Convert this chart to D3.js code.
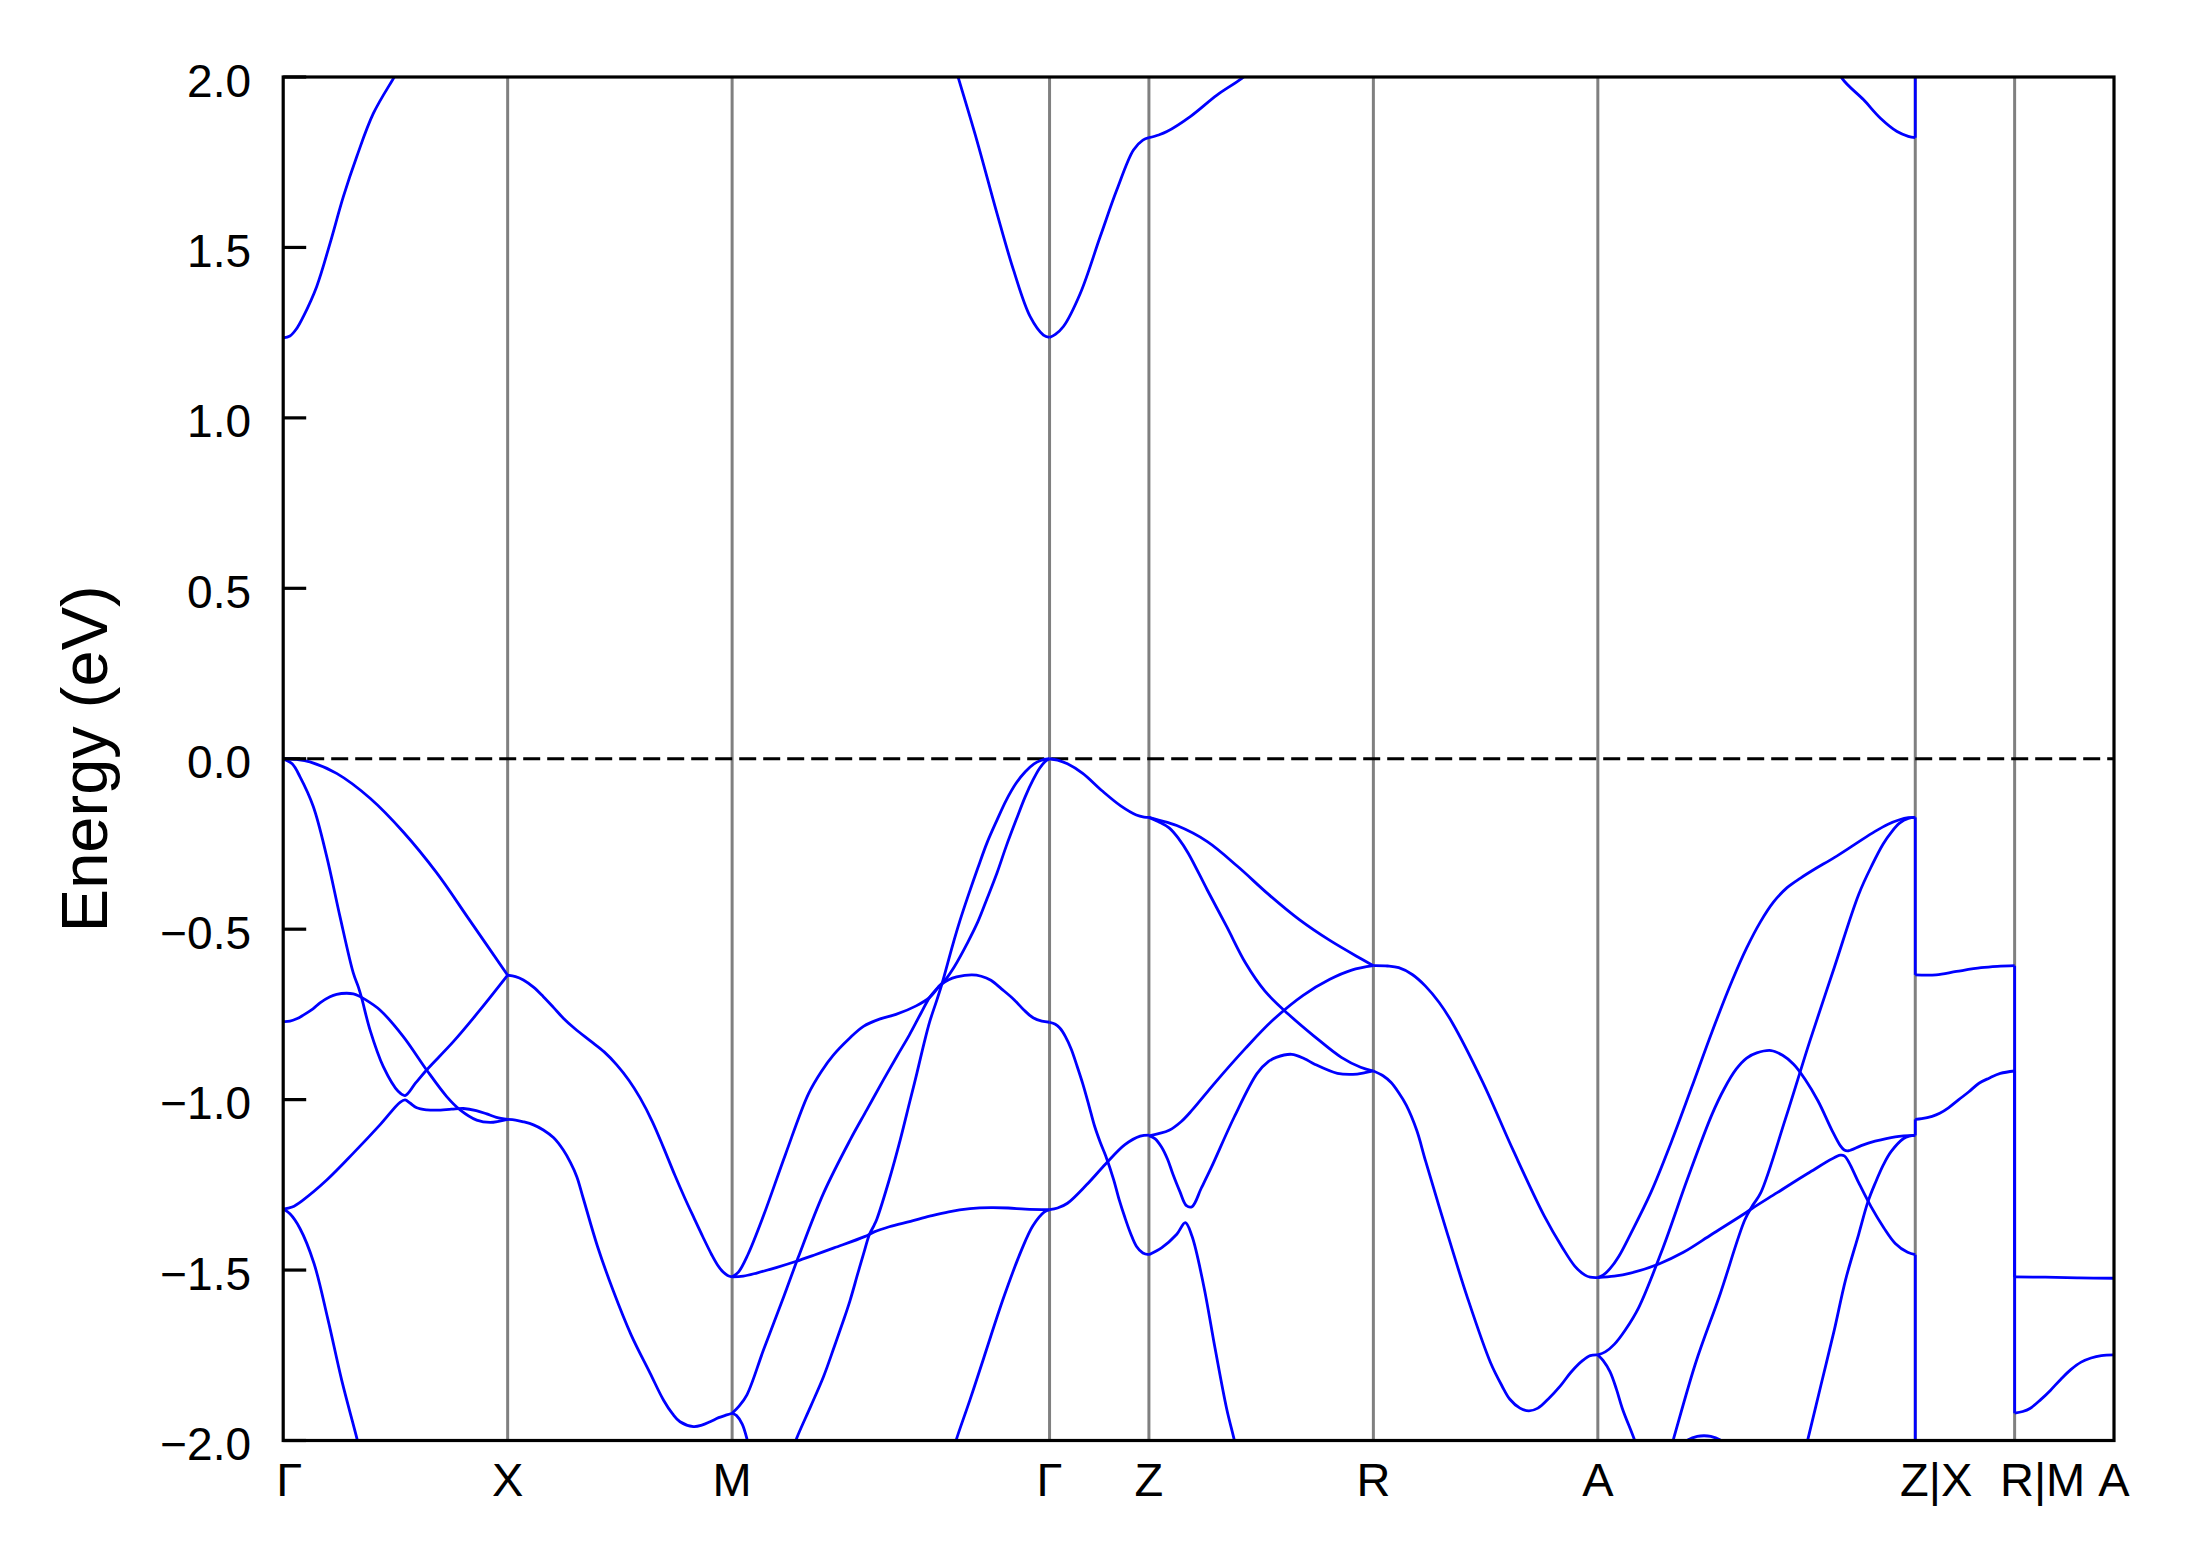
<!DOCTYPE html>
<html><head><meta charset="utf-8">
<script src="https://cdn.jsdelivr.net/npm/d3@7"></script>
<style>
html,body{margin:0;padding:0;background:#fff;}
svg{display:block;}
text{font-family:"Liberation Sans",Arial,Helvetica,sans-serif;fill:#000;}
</style>
</head><body>
<svg id="chart" width="2189" height="1567"></svg>
<script>
// ---------- data ----------
const kTicks  = [0, 1, 2, 3.4142, 3.8569, 4.8569, 5.8569, 7.2711, 7.7138, 8.1565];
const kLabels = ["Γ","X","M","Γ","Z","R","A","Z|X","R|M","A"];
const yTicks  = [-2, -1.5, -1, -0.5, 0, 0.5, 1, 1.5, 2];
const yLabel  = "Energy (eV)";

// band pieces, each a list of [k, E(eV)]
const segGX = [
  [[0,1.235],[0.03,1.240],[0.06,1.262],[0.0896,1.297],[0.149,1.385],[0.2086,1.512],[0.268,1.649],[0.3275,1.766],[0.4016,1.893],[0.495,2.0],[0.55,2.06]],
  [[0,0],[0.06,-0.002],[0.119,-0.009],[0.238,-0.043],[0.387,-0.116],[0.535,-0.215],[0.684,-0.335],[0.832,-0.475],[1,-0.635]],
  [[0,0],[0.04,-0.015],[0.075,-0.053],[0.134,-0.140],[0.194,-0.287],[0.253,-0.463],[0.3125,-0.629],[0.335,-0.670],[0.350,-0.703],[0.387,-0.796],[0.446,-0.903],[0.513,-0.976],[0.543,-0.988],[0.59,-0.951],[0.639,-0.913],[0.758,-0.830],[0.877,-0.737],[1,-0.635]],
  [[0,-0.771],[0.03,-0.770],[0.06,-0.763],[0.0896,-0.752],[0.134,-0.733],[0.164,-0.716],[0.2085,-0.698],[0.238,-0.691],[0.283,-0.688],[0.3125,-0.690],[0.335,-0.695],[0.357,-0.703],[0.431,-0.737],[0.535,-0.815],[0.639,-0.913],[0.7285,-0.991],[0.788,-1.030],[0.862,-1.060],[0.922,-1.067],[1,-1.058]],
  [[0,-1.321],[0.04,-1.315],[0.0896,-1.294],[0.194,-1.236],[0.3125,-1.157],[0.431,-1.074],[0.5205,-1.008],[0.543,-1.001],[0.565,-1.010],[0.595,-1.024],[0.64,-1.030],[0.684,-1.031],[0.75,-1.028],[0.8025,-1.026],[0.86,-1.032],[0.907,-1.042],[0.95,-1.052],[1,-1.058]],
  [[0,-1.321],[0.03,-1.335],[0.0747,-1.378],[0.137,-1.480],[0.199,-1.644],[0.2614,-1.825],[0.330,-1.998],[0.36,-2.08]]
];
const segXM = [
  [[1,-0.635],[1.035,-0.639],[1.070,-0.649],[1.115,-0.670],[1.159,-0.698],[1.205,-0.730],[1.248,-0.761],[1.30,-0.792],[1.367,-0.827],[1.43,-0.860],[1.486,-0.898],[1.540,-0.943],[1.590,-0.995],[1.645,-1.065],[1.694,-1.140],[1.745,-1.222],[1.790,-1.290],[1.830,-1.347],[1.870,-1.403],[1.909,-1.455],[1.935,-1.485],[1.960,-1.506],[1.98,-1.516],[2,-1.520]],
  [[1,-1.058],[1.035,-1.060],[1.070,-1.065],[1.115,-1.074],[1.159,-1.089],[1.205,-1.112],[1.248,-1.148],[1.280,-1.185],[1.308,-1.226],[1.337,-1.290],[1.40,-1.430],[1.47,-1.560],[1.55,-1.690],[1.635,-1.803],[1.694,-1.881],[1.735,-1.922],[1.768,-1.945],[1.8275,-1.959],[1.865,-1.955],[1.902,-1.945],[1.94,-1.933],[1.976,-1.925],[2,-1.920]]
];
const segMG = [
  [[2,-1.520],[2.028,-1.506],[2.07,-1.455],[2.14,-1.340],[2.238,-1.160],[2.34,-0.983],[2.40,-0.915],[2.45,-0.870],[2.52,-0.822],[2.585,-0.785],[2.66,-0.763],[2.73,-0.750],[2.82,-0.725],[2.88,-0.700],[2.93,-0.663],[2.965,-0.648],[3.0,-0.640],[3.068,-0.634],[3.11,-0.638],[3.153,-0.650],[3.2,-0.675],[3.255,-0.706],[3.30,-0.737],[3.341,-0.760],[3.38,-0.770],[3.414,-0.773]],
  [[2,-1.920],[2.03,-1.900],[2.066,-1.866],[2.140,-1.734],[2.229,-1.580],[2.295,-1.462],[2.407,-1.275],[2.526,-1.118],[2.60,-1.030],[2.674,-0.942],[2.735,-0.872],[2.79,-0.810],[2.84,-0.748],[2.88,-0.700],[2.915,-0.672],[2.948,-0.650],[2.99,-0.610],[3.051,-0.537],[3.095,-0.478],[3.136,-0.410],[3.18,-0.335],[3.221,-0.257],[3.265,-0.180],[3.306,-0.111],[3.34,-0.063],[3.37,-0.028],[3.395,-0.008],[3.414,0]],
  [[2.27,-2.03],[2.288,-1.993],[2.35,-1.90],[2.407,-1.813],[2.455,-1.725],[2.497,-1.646],[2.526,-1.588],[2.56,-1.51],[2.591,-1.440],[2.612,-1.395],[2.633,-1.368],[2.645,-1.350],[2.70,-1.235],[2.749,-1.118],[2.79,-1.010],[2.823,-0.923],[2.855,-0.835],[2.88,-0.772],[2.912,-0.708],[2.935,-0.660],[2.982,-0.548],[3.015,-0.475],[3.051,-0.403],[3.095,-0.320],[3.136,-0.246],[3.18,-0.180],[3.221,-0.122],[3.265,-0.072],[3.306,-0.038],[3.345,-0.015],[3.375,-0.005],[3.414,0]],
  [[2,-1.520],[2.05,-1.518],[2.113,-1.508],[2.2,-1.492],[2.283,-1.475],[2.37,-1.455],[2.454,-1.435],[2.590,-1.402],[2.633,-1.388],[2.70,-1.373],[2.795,-1.357],[2.88,-1.342],[2.965,-1.329],[3.06,-1.320],[3.153,-1.317],[3.23,-1.318],[3.306,-1.321],[3.414,-1.323]],
  [[2.98,-2.04],[3.001,-1.993],[3.06,-1.88],[3.12,-1.76],[3.21,-1.58],[3.29,-1.44],[3.34,-1.37],[3.39,-1.33],[3.414,-1.323]],
  [[2,-1.920],[2.02,-1.927],[2.045,-1.952],[2.066,-1.995],[2.08,-2.04]],
  [[2.98,2.06],[3.0085,1.996],[3.090,1.815],[3.180,1.600],[3.2535,1.434],[3.328,1.297],[3.387,1.243],[3.414,1.236]]
];
const segGZ = [
  [[3.414,1.236],[3.44,1.245],[3.476,1.268],[3.551,1.365],[3.640,1.532],[3.714,1.669],[3.788,1.786],[3.83,1.815],[3.857,1.822]],
  [[3.414,0],[3.45,-0.004],[3.494,-0.015],[3.562,-0.043],[3.648,-0.094],[3.733,-0.139],[3.801,-0.165],[3.835,-0.171],[3.857,-0.172]],
  [[3.414,-0.773],[3.44,-0.779],[3.460,-0.790],[3.485,-0.815],[3.511,-0.852],[3.535,-0.898],[3.562,-0.953],[3.590,-1.018],[3.614,-1.076],[3.640,-1.125],[3.665,-1.166],[3.699,-1.233],[3.725,-1.295],[3.750,-1.346],[3.775,-1.392],[3.801,-1.430],[3.830,-1.450],[3.857,-1.455]],
  [[3.414,-1.323],[3.45,-1.318],[3.494,-1.304],[3.579,-1.250],[3.665,-1.188],[3.750,-1.132],[3.818,-1.107],[3.857,-1.104]]
];
const segZR = [
  [[3.857,1.822],[3.90,1.830],[3.937,1.840],[4.041,1.884],[4.160,1.947],[4.271,1.996],[4.35,2.04]],
  [[3.857,-0.172],[3.90,-0.180],[3.981,-0.196],[4.117,-0.243],[4.254,-0.317],[4.390,-0.398],[4.527,-0.472],[4.663,-0.533],[4.800,-0.586],[4.857,-0.607]],
  [[3.857,-0.172],[3.90,-0.185],[3.947,-0.203],[3.99,-0.235],[4.032,-0.277],[4.117,-0.385],[4.203,-0.492],[4.288,-0.600],[4.373,-0.681],[4.476,-0.748],[4.595,-0.815],[4.714,-0.876],[4.80,-0.905],[4.857,-0.916]],
  [[3.857,-1.106],[3.90,-1.100],[3.947,-1.090],[4.0,-1.065],[4.049,-1.031],[4.152,-0.950],[4.288,-0.849],[4.407,-0.768],[4.544,-0.694],[4.663,-0.647],[4.76,-0.620],[4.857,-0.607]],
  [[3.857,-1.106],[3.885,-1.115],[3.913,-1.139],[3.940,-1.175],[3.964,-1.219],[3.995,-1.270],[4.024,-1.311],[4.049,-1.314],[4.09,-1.26],[4.135,-1.199],[4.237,-1.051],[4.339,-0.923],[4.39,-0.888],[4.424,-0.876],[4.493,-0.867],[4.55,-0.880],[4.595,-0.896],[4.697,-0.923],[4.766,-0.926],[4.82,-0.921],[4.857,-0.916]],
  [[3.857,-1.455],[3.913,-1.435],[3.981,-1.395],[4.019,-1.361],[4.049,-1.401],[4.100,-1.543],[4.152,-1.731],[4.203,-1.906],[4.237,-1.998],[4.25,-2.04]]
];
const segRA = [
  [[4.857,-0.607],[4.92,-0.608],[4.970,-0.613],[5.03,-0.633],[5.089,-0.667],[5.15,-0.715],[5.209,-0.775],[5.345,-0.950],[5.482,-1.152],[5.618,-1.341],[5.70,-1.435],[5.755,-1.489],[5.80,-1.515],[5.823,-1.521],[5.857,-1.522]],
  [[4.857,-0.916],[4.90,-0.930],[4.936,-0.950],[4.97,-0.98],[5.004,-1.017],[5.05,-1.09],[5.089,-1.179],[5.175,-1.368],[5.277,-1.583],[5.379,-1.772],[5.43,-1.84],[5.465,-1.879],[5.51,-1.905],[5.550,-1.913],[5.59,-1.905],[5.635,-1.879],[5.69,-1.84],[5.738,-1.799],[5.79,-1.765],[5.823,-1.751],[5.857,-1.749]]
];
const segAZ = [
  [[5.857,-1.522],[5.88,-1.515],[5.911,-1.496],[5.95,-1.46],[6.002,-1.395],[6.093,-1.273],[6.184,-1.125],[6.275,-0.964],[6.365,-0.802],[6.456,-0.650],[6.52,-0.555],[6.58,-0.480],[6.64,-0.420],[6.70,-0.378],[6.76,-0.350],[6.82,-0.325],[6.91,-0.290],[7.0,-0.252],[7.092,-0.213],[7.15,-0.192],[7.201,-0.179],[7.24,-0.173],[7.271,-0.172]],
  [[6.17,-2.05],[6.193,-1.998],[6.293,-1.772],[6.402,-1.570],[6.511,-1.354],[6.547,-1.310],[6.583,-1.273],[6.692,-1.058],[6.801,-0.829],[6.910,-0.613],[7.019,-0.398],[7.08,-0.31],[7.128,-0.250],[7.165,-0.215],[7.201,-0.189],[7.24,-0.175],[7.271,-0.172]],
  [[5.857,-1.749],[5.89,-1.74],[5.930,-1.718],[5.98,-1.675],[6.039,-1.610],[6.147,-1.435],[6.256,-1.233],[6.365,-1.044],[6.42,-0.968],[6.474,-0.910],[6.52,-0.878],[6.565,-0.863],[6.629,-0.856],[6.68,-0.870],[6.729,-0.896],[6.78,-0.94],[6.838,-1.004],[6.90,-1.09],[6.937,-1.135],[6.955,-1.148],[6.974,-1.150],[7.03,-1.135],[7.092,-1.122],[7.182,-1.109],[7.271,-1.105]],
  [[5.857,-1.522],[5.93,-1.518],[6.002,-1.509],[6.129,-1.482],[6.238,-1.448],[6.365,-1.395],[6.511,-1.334],[6.547,-1.318],[6.656,-1.273],[6.801,-1.213],[6.937,-1.163],[6.955,-1.165],[6.974,-1.182],[7.02,-1.245],[7.074,-1.314],[7.13,-1.375],[7.182,-1.422],[7.237,-1.448],[7.271,-1.455]],
  [[5.857,-1.749],[5.88,-1.765],[5.911,-1.798],[5.94,-1.85],[5.966,-1.906],[6.020,-1.998],[6.04,-2.04]],
  [[6.78,-2.03],[6.792,-1.998],[6.85,-1.84],[6.910,-1.677],[6.96,-1.53],[7.019,-1.395],[7.06,-1.30],[7.092,-1.246],[7.13,-1.19],[7.164,-1.152],[7.219,-1.114],[7.245,-1.107],[7.271,-1.105]],
  [[6.22,-2.02],[6.26,-1.998],[6.30,-1.988],[6.33,-1.986],[6.36,-1.988],[6.40,-1.998],[6.44,-2.02]],
  [[6.90,2.06],[6.945,1.996],[7.041,1.933],[7.116,1.879],[7.190,1.840],[7.24,1.826],[7.271,1.822]]
];
const segXR = [
  [[7.271,-0.634],[7.364,-0.634],[7.455,-0.624],[7.564,-0.613],[7.637,-0.609],[7.714,-0.607]],
  [[7.271,-1.058],[7.30,-1.056],[7.346,-1.049],[7.38,-1.04],[7.419,-1.024],[7.465,-1.00],[7.510,-0.977],[7.555,-0.952],[7.600,-0.937],[7.65,-0.923],[7.714,-0.916]]
];
const segMA = [
  [[7.714,-1.520],[7.85,-1.521],[8.0,-1.523],[8.157,-1.524]],
  [[7.714,-1.920],[7.75,-1.915],[7.782,-1.906],[7.83,-1.88],[7.873,-1.853],[7.92,-1.82],[7.964,-1.792],[8.01,-1.770],[8.054,-1.758],[8.10,-1.751],[8.157,-1.749]]
];
// discontinuities at Z|X and R|M: [k, E from, E to]
const jumps = [
  [7.2711, 1.822, 2.1],
  [7.2711, -0.172, -0.634],
  [7.2711, -1.105, -1.058],
  [7.2711, -1.455, -2.1],
  [7.7138, -0.607, -1.520],
  [7.7138, -0.916, -1.920]
];

// ---------- drawing ----------
const svg = d3.select("#chart");
svg.append("rect").attr("width",2189).attr("height",1567).attr("fill","#fff");

const L = 283.2, R = 2114, T = 77, B = 1440.5;
const x = d3.scaleLinear().domain(d3.extent(kTicks)).range([L, R]);
const y = d3.scaleLinear().domain([-2, 2]).range([B, T]);

svg.append("defs").append("clipPath").attr("id","clip")
  .append("rect").attr("x",L).attr("y",T).attr("width",R-L).attr("height",B-T);

const plot = svg.append("g").attr("clip-path","url(#clip)");

// high-symmetry lines
plot.selectAll("line.hs").data(kTicks.slice(1,-1)).enter().append("line")
  .attr("class","hs")
  .attr("x1",d=>x(d)).attr("x2",d=>x(d)).attr("y1",T).attr("y2",B)
  .attr("stroke","#808080").attr("stroke-width",3);

// Fermi level
plot.append("line").attr("x1",L).attr("x2",R).attr("y1",y(0)).attr("y2",y(0))
  .attr("stroke","#000").attr("stroke-width",3.2).attr("stroke-dasharray","17,7");

// bands
const allPieces = [].concat(segGX, segXM, segMG, segGZ, segZR, segRA, segAZ, segXR, segMA);
const line = d3.line().x(d=>x(d[0])).y(d=>y(d[1])).curve(d3.curveCatmullRom.alpha(0.5));
plot.selectAll("path.band").data(allPieces).enter().append("path")
  .attr("class","band").attr("d",line)
  .attr("fill","none").attr("stroke","#0000ff").attr("stroke-width",2.8)
  .attr("stroke-linejoin","round").attr("stroke-linecap","butt");

plot.selectAll("line.jump").data(jumps).enter().append("line")
  .attr("class","jump")
  .attr("x1",d=>x(d[0])).attr("x2",d=>x(d[0]))
  .attr("y1",d=>y(d[1])).attr("y2",d=>y(d[2]))
  .attr("stroke","#0000ff").attr("stroke-width",2.8);

// frame
svg.append("rect").attr("x",L).attr("y",T).attr("width",R-L).attr("height",B-T)
  .attr("fill","none").attr("stroke","#000").attr("stroke-width",3.2);

// y ticks (inward) and labels
const fmt = d3.format(".1f");
svg.selectAll("line.yt").data(yTicks).enter().append("line")
  .attr("x1",L).attr("x2",L+23).attr("y1",d=>y(d)).attr("y2",d=>y(d))
  .attr("stroke","#000").attr("stroke-width",3.2);
svg.selectAll("text.yt").data(yTicks).enter().append("text")
  .attr("x",251).attr("y",d=>y(d)+19.5)
  .attr("text-anchor","end").attr("font-size",46)
  .text(d=>fmt(d));

// x labels
const xNudge = [6,0,0,0,0,0,0,21,28,0];
svg.selectAll("text.xt").data(kTicks).enter().append("text")
  .attr("x",(d,i)=>x(d)+xNudge[i]).attr("y",1496)
  .attr("text-anchor","middle").attr("font-size",47)
  .text((d,i)=>kLabels[i]);

// y axis label
svg.append("text").attr("transform","translate(107,758.75) rotate(-90)")
  .attr("text-anchor","middle").attr("font-size",65).text(yLabel);
</script>
</body></html>
